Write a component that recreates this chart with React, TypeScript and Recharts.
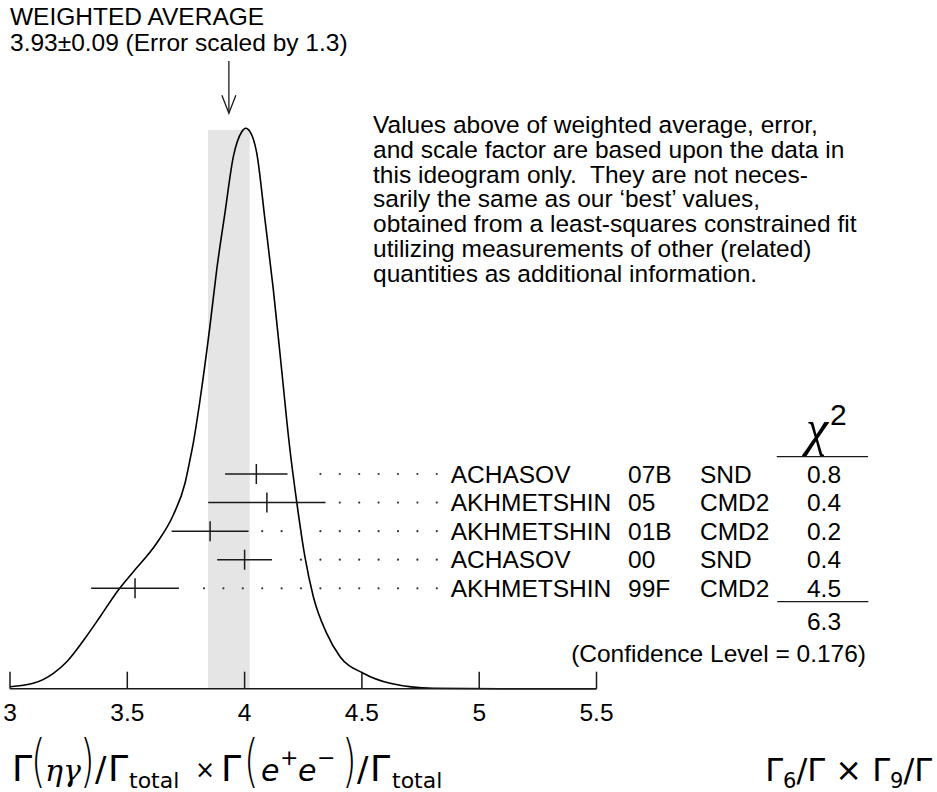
import React from 'react';
import {
  ComposedChart,
  Line,
  Scatter,
  ErrorBar,
  XAxis,
  YAxis,
  ReferenceArea,
  ReferenceLine,
  ReferenceDot,
} from 'recharts';

// ---------- data ----------
const curveX = [3.0, 3.099, 3.185, 3.242, 3.32, 3.384, 3.462, 3.526, 3.625, 3.696, 3.746, 3.767, 3.781, 3.81, 3.852, 3.881, 3.916, 3.952, 3.988, 4.005, 4.023, 4.052, 4.087, 4.122, 4.158, 4.191, 4.222, 4.257, 4.293, 4.35, 4.407, 4.506, 4.62, 4.804, 5.09, 5.5];
const curveH = [2, 5.4, 15.4, 27, 50.4, 72, 98.7, 117, 145.4, 173.7, 205.4, 228.7, 245.4, 288.7, 362, 418.7, 475.4, 532, 557, 560.4, 557, 535.4, 468.7, 400, 318.7, 243.7, 187, 132, 92, 55.4, 32, 15.4, 5.4, 0.4, 0, 0];

const names = ['ACHASOV', 'AKHMETSHIN', 'AKHMETSHIN', 'ACHASOV', 'AKHMETSHIN'];
const years = ['07B', '05', '01B', '00', '99F'];
const experiments = ['SND', 'CMD2', 'CMD2', 'SND', 'CMD2'];
const values = [4.05, 4.095, 3.853, 4.0, 3.533];
const errors = [0.133, 0.25, 0.164, 0.117, 0.187];
const chi2 = ['0.8', '0.4', '0.2', '0.4', '4.5'];
const rowSlots = [5, 4, 3, 2, 1];

const xTicks = [3, 3.5, 4, 4.5, 5, 5.5];
const weightedAvg = 3.933;
const weightedErr = 0.089;
const chi2Total = '6.3';
const confidenceLevel = '0.176';

const paragraph = [
  'Values above of weighted average, error,',
  'and scale factor are based upon the data in',
  'this ideogram only.  They are not neces-',
  'sarily the same as our \u2018best\u2019 values,',
  'obtained from a least-squares constrained fit',
  'utilizing measurements of other (related)',
  'quantities as additional information.',
];

// ---------- layout ----------
const W = 937;
const H = 792;
const PLOT_L = 10;
const PLOT_R = 596.5;
const PLOT_T = 101.7;
const PLOT_B = 688.7;
const X_MIN = 3;
const X_MAX = 5.5;
const PX_PER_UNIT = (PLOT_R - PLOT_L) / (X_MAX - X_MIN);
const Y_MAX = PLOT_B - PLOT_T;
const ROW_DOMAIN: [number, number] = [-2.514, 18.03];

const FONT = '"Liberation Sans", Arial, Helvetica, sans-serif';
const FS = 24.5;
const INK = '#1a1a1a';

const DOT_START = 204;
const DOT_STEP = 19.4;
const DOT_COUNT = 13;
const NAME_X = 450.7;
const YEAR_X = 628;
const EXP_X = 700;
const CHI_X = 824;

const curveData = curveX.map((x, i) => ({ x, h: curveH[i] }));
const rowData = names.map((name, i) => ({
  x: values[i],
  row: rowSlots[i],
  err: errors[i],
  name,
  year: years[i],
  exp: experiments[i],
  chi: chi2[i],
}));

const RowShape = (props: any) => {
  const { cx, cy, payload } = props;
  const barEnd = cx + payload.err * PX_PER_UNIT;
  const dots = [];
  for (let k = 0; k < DOT_COUNT; k++) {
    const dx = DOT_START + k * DOT_STEP;
    if (dx >= barEnd + 13.5) {
      dots.push(<circle key={k} cx={dx} cy={cy} r={1.1} fill="#333" />);
    }
  }
  const ty = cy + 8.5;
  return (
    <g>
      <line x1={cx} x2={cx} y1={cy - 10} y2={cy + 10} stroke={INK} strokeWidth={1.5} />
      {dots}
      <text x={NAME_X} y={ty} fontFamily={FONT} fontSize={FS} fill="#000">{payload.name}</text>
      <text x={YEAR_X} y={ty} fontFamily={FONT} fontSize={FS} fill="#000">{payload.year}</text>
      <text x={EXP_X} y={ty} fontFamily={FONT} fontSize={FS} fill="#000">{payload.exp}</text>
      <text x={CHI_X} y={ty} textAnchor="middle" fontFamily={FONT} fontSize={FS} fill="#000">{payload.chi}</text>
    </g>
  );
};

const TickLabel = (props: any) => {
  const { x, payload } = props;
  return (
    <text x={x} y={721.3} textAnchor="middle" fontFamily={FONT} fontSize={FS} fill="#000">
      {String(payload.value)}
    </text>
  );
};

const ArrowShape = (props: any) => {
  const { cx, cy } = props;
  return (
    <g stroke={INK} strokeWidth={1.3} fill="none">
      <line x1={cx} x2={cx} y1={cy - 52.3} y2={cy} />
      <polyline points={`${cx - 7},${cy - 18} ${cx},${cy} ${cx + 7},${cy - 18}`} />
    </g>
  );
};

const SANS_MATH = '"DejaVu Sans", "Liberation Sans", sans-serif';
const SERIF_MATH = '"DejaVu Serif", "Liberation Serif", serif';

const Paren = ({ x, ch }: { x: number; ch: string }) => (
  <text x={x} y={780} fontFamily={SANS_MATH} fontSize={50} fontWeight={200} transform={`translate(${x} 780) scale(0.75 1.15) translate(${-x} -780)`}>
    {ch}
  </text>
);

export default function App() {
  return (
    <div style={{ position: 'absolute', left: 0, top: 0, width: W, height: H, background: '#fff' }}>
      <ComposedChart
        width={W}
        height={H}
        margin={{ top: PLOT_T, left: PLOT_L, right: W - PLOT_R, bottom: H - PLOT_B - 30 }}
      >
        <XAxis
          dataKey="x"
          type="number"
          domain={[X_MIN, X_MAX]}
          ticks={xTicks}
          height={30}
          axisLine={{ stroke: INK, strokeWidth: 1.5 }}
          tickLine={false}
          tick={<TickLabel />}
        />
        <YAxis
          yAxisId="d"
          type="number"
          domain={[0, Y_MAX]}
          width={0}
          tick={false}
          tickLine={false}
          axisLine={{ stroke: INK, strokeWidth: 1.5 }}
        />
        <YAxis yAxisId="rows" dataKey="row" type="number" domain={ROW_DOMAIN} hide width={0} />
        <ReferenceArea
          yAxisId="d"
          x1={weightedAvg - weightedErr}
          x2={weightedAvg + weightedErr}
          y1={0}
          y2={558.6}
          fill="#e5e5e5"
          fillOpacity={1}
          stroke="none"
          ifOverflow="visible"
        />
        {xTicks.map((t) => (
          <ReferenceLine
            key={t}
            yAxisId="d"
            segment={[{ x: t, y: 0 }, { x: t, y: 17 }]}
            stroke={INK}
            strokeWidth={1.5}
            ifOverflow="visible"
          />
        ))}
        <ReferenceDot
          yAxisId="d"
          x={weightedAvg}
          y={575.4}
          ifOverflow="visible"
          shape={<ArrowShape />}
        />
        <Line
          yAxisId="d"
          data={curveData}
          dataKey="h"
          type="monotone"
          stroke="#000"
          strokeWidth={1.6}
          dot={false}
          isAnimationActive={false}
        />
        <Scatter
          yAxisId="rows"
          data={rowData}
          dataKey="row"
          shape={<RowShape />}
          isAnimationActive={false}
        >
          <ErrorBar dataKey="err" direction="x" width={0} stroke={INK} strokeWidth={1.5} />
        </Scatter>
      </ComposedChart>

      <svg
        width={W}
        height={H}
        style={{ position: 'absolute', left: 0, top: 0, pointerEvents: 'none' }}
      >
        <g fontFamily={FONT} fontSize={FS} fill="#000">
          <text x={10} y={25}>WEIGHTED AVERAGE</text>
          <text x={10} y={51}>{`3.93\u00b10.09 (Error scaled by 1.3)`}</text>
          {paragraph.map((line, i) => (
            <text key={i} x={373} y={133.3 + i * 24.7} style={{ whiteSpace: 'pre' }}>
              {line}
            </text>
          ))}
          <text x={CHI_X} y={630} textAnchor="middle">{chi2Total}</text>
          <text x={866} y={661.7} textAnchor="end">{`(Confidence Level = ${confidenceLevel})`}</text>
        </g>
        <text x={806} y={445} fontFamily='"Liberation Serif", "DejaVu Serif", serif' fontStyle="italic" fontSize={50} fill="#000">
          {'\u03c7'}
        </text>
        <text x={830} y={425} fontFamily={FONT} fontSize={30} fill="#000">2</text>
        <line x1={776.7} x2={868} y1={456.7} y2={456.7} stroke={INK} strokeWidth={1.3} />
        <line x1={777.3} x2={868.3} y1={601.7} y2={601.7} stroke={INK} strokeWidth={1.3} />

        {/* bottom-left formula */}
        <g fill="#000">
          <text x={12} y={781} fontFamily={SANS_MATH} fontSize={36}>{'\u0393'}</text>
          <Paren x={31} ch="(" />
          <text x={45} y={781} fontFamily={SERIF_MATH} fontStyle="italic" fontSize={30}>{'\u03b7'}</text>
          <text x={63} y={781} fontFamily={SERIF_MATH} fontStyle="italic" fontSize={30}>{'\u03b3'}</text>
          <Paren x={80} ch=")" />
          <text x={95} y={781} fontFamily={SANS_MATH} fontSize={34}>/</text>
          <text x={108} y={781} fontFamily={SANS_MATH} fontSize={36}>{'\u0393'}</text>
          <text x={129} y={788} fontFamily={SANS_MATH} fontSize={22}>total</text>
          <text x={195} y={778} fontFamily={SANS_MATH} fontSize={24}>{'\u00d7'}</text>
          <text x={221} y={781} fontFamily={SANS_MATH} fontSize={36}>{'\u0393'}</text>
          <Paren x={244} ch="(" />
          <text x={261} y={781} fontFamily={SANS_MATH} fontStyle="italic" fontSize={30}>e</text>
          <text x={280} y={765} fontFamily={SANS_MATH} fontSize={22}>+</text>
          <text x={298} y={781} fontFamily={SANS_MATH} fontStyle="italic" fontSize={30}>e</text>
          <text x={317} y={765} fontFamily={SANS_MATH} fontSize={22}>{'\u2212'}</text>
          <Paren x={342} ch=")" />
          <text x={357} y={781} fontFamily={SANS_MATH} fontSize={34}>/</text>
          <text x={370} y={781} fontFamily={SANS_MATH} fontSize={36}>{'\u0393'}</text>
          <text x={392} y={788} fontFamily={SANS_MATH} fontSize={22}>total</text>
        </g>

        {/* bottom-right formula */}
        <text x={932} y={781} textAnchor="end" fontFamily={SANS_MATH} fontSize={32} fill="#000">
          {'\u0393'}
          <tspan fontSize={21} dy={7}>6</tspan>
          <tspan dy={-7}>/{'\u0393'} {'\u00d7'} {'\u0393'}</tspan>
          <tspan fontSize={21} dy={7}>9</tspan>
          <tspan dy={-7}>/{'\u0393'}</tspan>
        </text>
      </svg>
    </div>
  );
}
